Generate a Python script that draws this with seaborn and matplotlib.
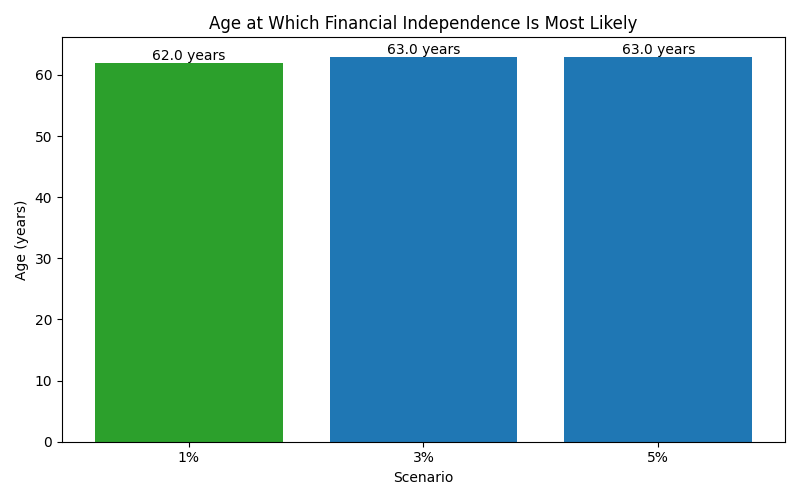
import matplotlib
matplotlib.use("Agg")
import matplotlib.pyplot as plt
import seaborn as sns

scenarios = ["1%", "3%", "5%"]
ages = [62.0, 63.0, 63.0]
colors = ["#2ca02c", "#1f77b4", "#1f77b4"]

fig, ax = plt.subplots(figsize=(8, 5), dpi=100)
sns.barplot(x=scenarios, y=ages, hue=scenarios, palette=colors, legend=False,
            width=0.8, saturation=1, ax=ax)

for p in ax.patches:
    p.set_edgecolor("none")
    h = p.get_height()
    ax.text(p.get_x() + p.get_width() / 2, h, f"{h:.1f} years",
            ha="center", va="bottom", fontsize=10)

ax.set_xlim(-0.54, 2.54)
ax.set_ylim(0, 66.15)
ax.set_title("Age at Which Financial Independence Is Most Likely", fontsize=12)
ax.set_xlabel("Scenario")
ax.set_ylabel("Age (years)")
plt.tight_layout()
fig.savefig("out.png", dpi=100)
